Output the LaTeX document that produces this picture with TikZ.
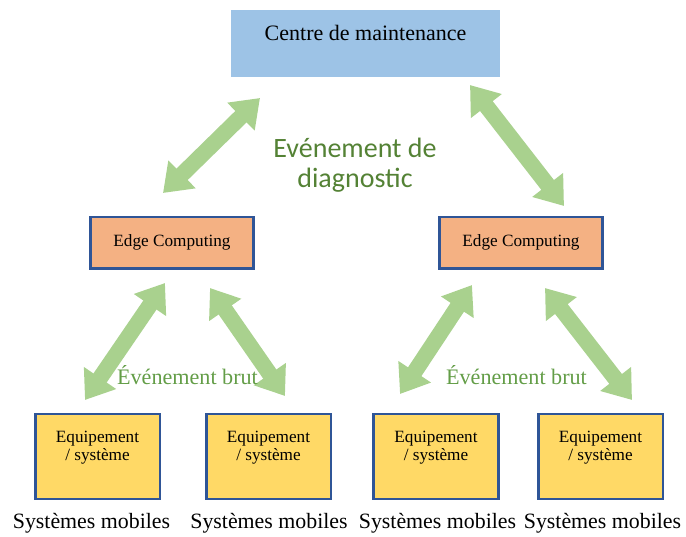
\documentclass[tikz,border=0pt]{standalone}
\usepackage{fontspec}
\setmainfont{Liberation Serif}
\newfontfamily\calibrifont{Carlito}
\usetikzlibrary{arrows.meta}
\definecolor{centreBlue}{HTML}{9DC3E6}
\definecolor{edgeOrange}{HTML}{F4B183}
\definecolor{equipYellow}{HTML}{FFD966}
\definecolor{frameBlue}{HTML}{2F5597}
\definecolor{arrowGreen}{HTML}{A9D18E}
\definecolor{diagGreen}{HTML}{548235}
\definecolor{brutGreen}{HTML}{639D47}
\tikzset{
  centreBox/.style={fill=centreBlue, minimum width=201.75pt, minimum height=50.25pt,
    text depth=16pt, font=\fontsize{16.5}{19}\selectfont},
  edgeBox/.style={fill=edgeOrange, draw=frameBlue, line width=2pt, minimum width=122.5pt,
    minimum height=38.5pt, font=\fontsize{12.9}{15}\selectfont},
  equipBox/.style={fill=equipYellow, draw=frameBlue, line width=2pt, minimum width=93.5pt,
    minimum height=63.75pt, align=center, text depth=16pt, font=\fontsize{12.9}{13}\selectfont},
  mobileText/.style={font=\fontsize{16.4}{19}\selectfont},
  fatArrow/.style={arrowGreen, line width=12pt,
    {Triangle[length=20pt,width=28pt]}-{Triangle[length=20pt,width=28pt]}},
  brutText/.style={brutGreen, font=\fontsize{16.6}{19}\selectfont}
}
\begin{document}
\begin{tikzpicture}[x=0.75pt,y=-0.75pt]
  \useasboundingbox (0,0) rectangle (686,536);
  % top and middle level
  \node[centreBox] (centre) at (365.5,43.5) {Centre de maintenance};
  \node[edgeBox] (edgeL) at (172,242.5) {Edge Computing};
  \node[edgeBox] (edgeR) at (521,242.5) {Edge Computing};

  % equipment boxes with their captions: {box x, caption x}
  \foreach \i/\x/\cx in {1/97.5/91.5, 2/268.5/269, 3/436/437.5, 4/600.5/602.5}{
    \node[equipBox] (equip\i) at (\x,456.5) {Equipement\\/ système};
    \node[mobileText] (mobile\i) at (\cx,523) {Systèmes mobiles};
  }

  % arrow ends, named as tip pairs
  \coordinate (aL1) at (163,193);  \coordinate (aL2) at (260,98);
  \coordinate (aR1) at (470,85);   \coordinate (aR2) at (564,206);
  \coordinate (b1a) at (85,400);   \coordinate (b1b) at (165,283);
  \coordinate (b2a) at (210,288);  \coordinate (b2b) at (285,396);
  \coordinate (b3a) at (400,394);  \coordinate (b3b) at (472,285);
  \coordinate (b4a) at (545,288);  \coordinate (b4b) at (632,400);

  \foreach \s/\t in {aL1/aL2, aR1/aR2, b1a/b1b, b2a/b2b, b3a/b3b, b4a/b4b}{
    \draw[fatArrow] (\s) -- (\t);
  }

  % labels on the flows
  \node[diagGreen, align=center, font=\calibrifont\fontsize{21}{22.5}\selectfont]
    (diag) at (355,165) {Evénement de\\diagnostic};
  \node[brutText] (brutL) at (187.5,375) {Événement brut};
  \node[brutText] (brutR) at (516.5,375) {Événement brut};
\end{tikzpicture}
\end{document}
